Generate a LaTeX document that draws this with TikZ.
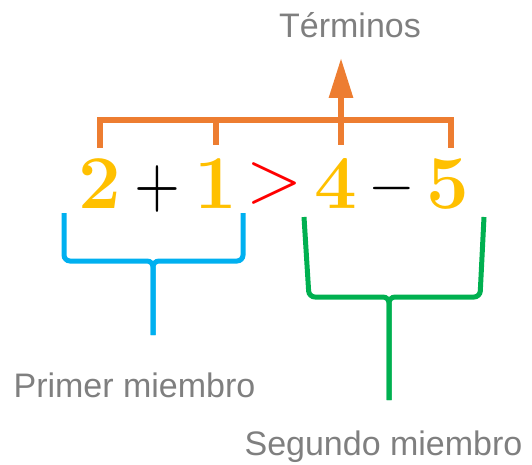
\documentclass[tikz,border=0pt]{standalone}
\usepackage{fontspec}
\setsansfont{Liberation Sans}
\usetikzlibrary{arrows.meta}
\definecolor{torange}{HTML}{ED7D31}
\definecolor{tgold}{HTML}{FFC000}
\definecolor{tblue}{HTML}{00B0F0}
\definecolor{tgreen}{HTML}{00B050}
\definecolor{tgray}{HTML}{7F7F7F}
\definecolor{tred}{HTML}{FF0000}
\begin{document}
\begin{tikzpicture}[x=1pt,y=1pt,
  lbl/.style={anchor=base,inner sep=0,text=tgray,font=\sffamily\fontsize{34}{34}\selectfont},
  digit/.style={anchor=base,inner sep=0,text=tgold,font=\bfseries\fontsize{76}{76}\selectfont},
  oper/.style={anchor=center,inner sep=0},
  obr/.style={draw=torange,line width=6pt},
  bbr/.style={draw=tblue,line width=5pt,rounded corners=6pt},
  gbr/.style={draw=tgreen,line width=5pt,rounded corners=6pt}]
\useasboundingbox (0,0) rectangle (532,464);
% texts
\node[lbl] (term) at (350,426) {Términos};
\node[lbl] (prim) at (134.5,67) {Primer miembro};
\node[lbl] (seg) at (383.5,9) {Segundo miembro};
% expression
\node[digit] (d2) at (100,256) {2};
\node[oper,xscale=5.9,yscale=7] (plus) at (157,275) {$+$};
\node[digit] (d1) at (216,256) {1};
\node[oper,text=tred,scale=7.2] (gt) at (274,280) {$>$};
\node[digit] (d4) at (336,256) {4};
\node[oper,scale=6] (minus) at (392,275) {$-$};
\node[digit] (d5) at (448,256) {5};
% orange bracket
\coordinate (oL) at (100,344);
\coordinate (oR) at (451,344);
\coordinate (oM) at (341,344);
\coordinate (t2) at (100,319);
\coordinate (t1) at (216,319);
\coordinate (t4) at (341,319);
\coordinate (t5) at (451,319);
\coordinate (tip) at (341,406);
\draw[obr,line cap=rect] (t2) -- (oL) -- (oR) -- (t5);
\draw[obr] (t1) -- (216,344);
\draw[obr] (t4) -- (oM);
\draw[obr,-{Triangle[width=23pt,length=40pt]}] (oM) -- (tip);
% blue bracket
\coordinate (bL) at (64,251);
\coordinate (bR) at (243,251);
\coordinate (bS) at (153,129);
\draw[bbr] (bL) -- (64,203) -- (153,203) -- (bS);
\draw[bbr] (bR) -- (243,203) -- (153,203) -- (bS);
% green bracket
\coordinate (gL) at (304,247);
\coordinate (gR) at (484,247);
\coordinate (gS) at (389,64);
\draw[gbr] (gL) -- (309,167) -- (389,167) -- (gS);
\draw[gbr] (gR) -- (480,167) -- (389,167) -- (gS);
\end{tikzpicture}
\end{document}
